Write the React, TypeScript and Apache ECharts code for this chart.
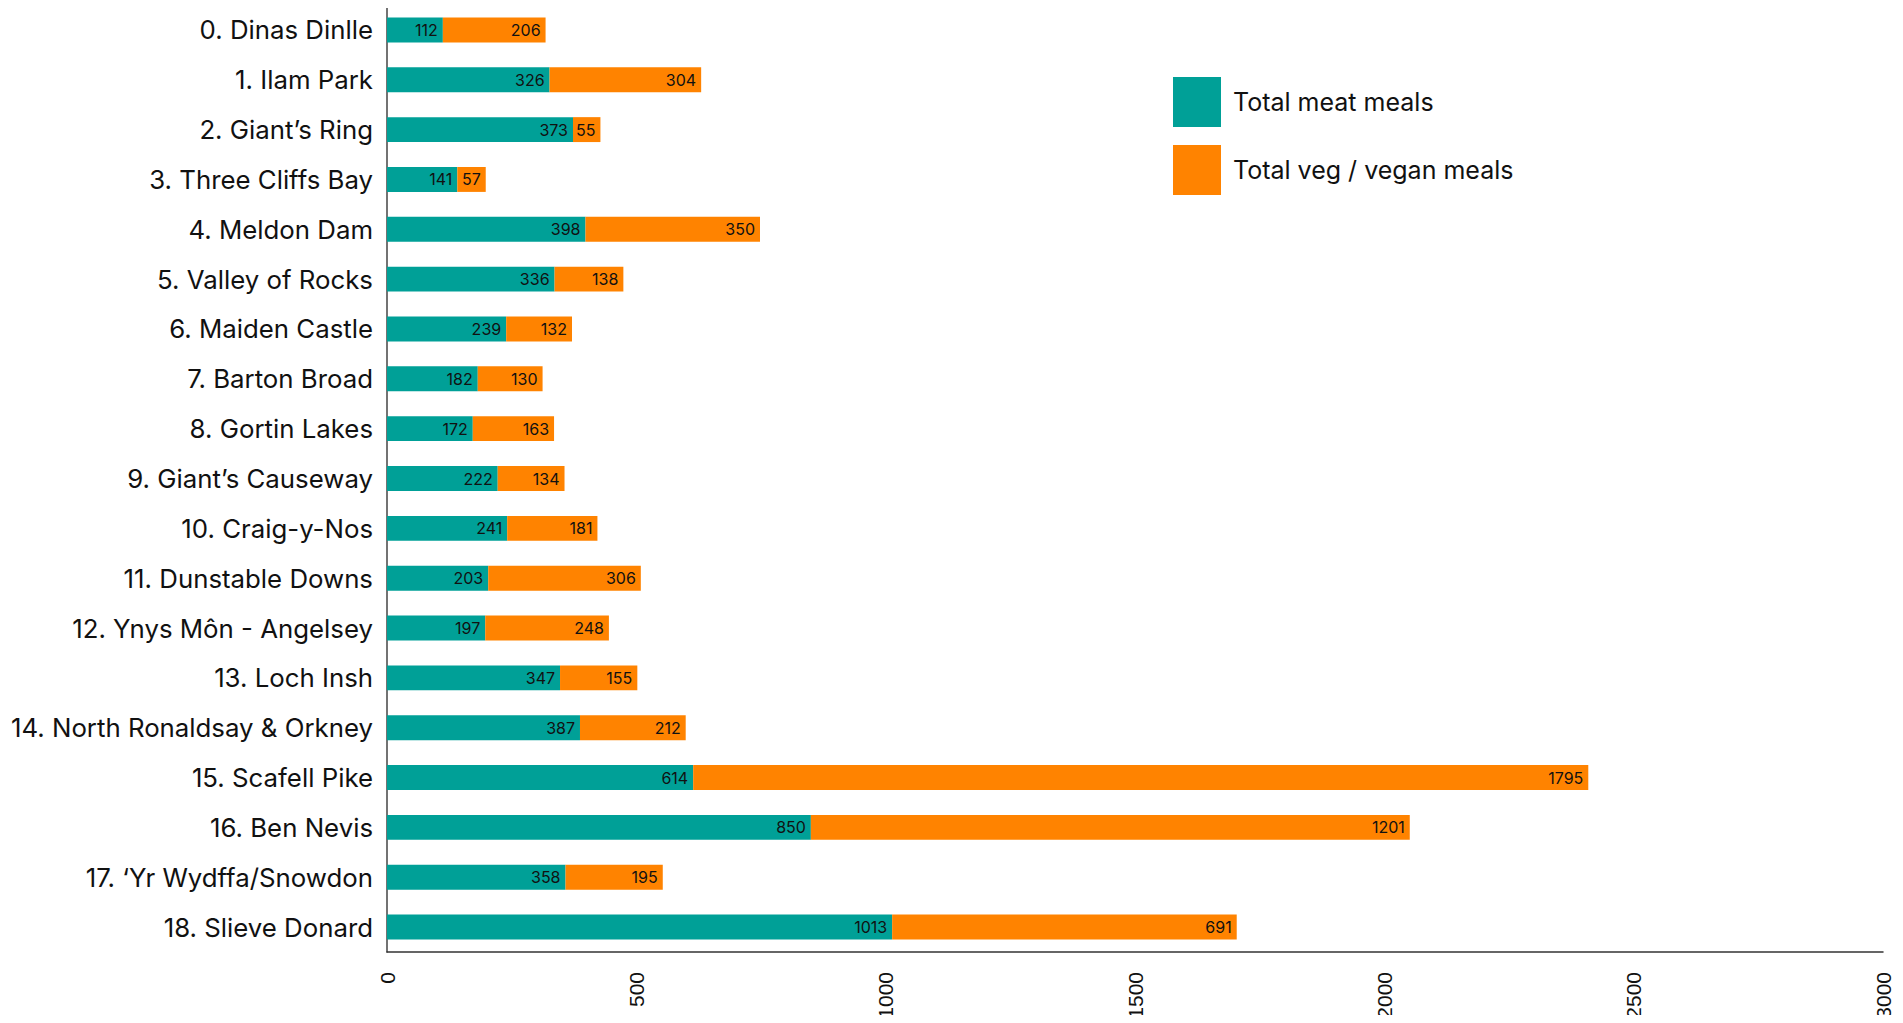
import React, { useEffect, useRef } from "react";
import * as echarts from "echarts";

// Walk locations, top to bottom
const sites = [
  "0. Dinas Dinlle",
  "1. Ilam Park",
  "2. Giant’s Ring",
  "3. Three Cliffs Bay",
  "4. Meldon Dam",
  "5. Valley of Rocks",
  "6. Maiden Castle",
  "7. Barton Broad",
  "8. Gortin Lakes",
  "9. Giant’s Causeway",
  "10. Craig-y-Nos",
  "11. Dunstable Downs",
  "12. Ynys Môn - Angelsey",
  "13. Loch Insh",
  "14. North Ronaldsay & Orkney",
  "15. Scafell Pike",
  "16. Ben Nevis",
  "17. ‘Yr Wydffa/Snowdon",
  "18. Slieve Donard",
];

const meatMeals = [112, 326, 373, 141, 398, 336, 239, 182, 172, 222, 241, 203, 197, 347, 387, 614, 850, 358, 1013];
const vegMeals = [206, 304, 55, 57, 350, 138, 132, 130, 163, 134, 181, 306, 248, 155, 212, 1795, 1201, 195, 691];

const seriesNames = ["Total meat meals", "Total veg / vegan meals"];
const seriesColors = ["#00A097", "#FF8300"];

const LABEL_FONT = "Inter, Roboto, sans-serif";

export default function App() {
  const ref = useRef<HTMLDivElement>(null);

  useEffect(() => {
    if (!ref.current) return;
    const chart = echarts.init(ref.current, null, { renderer: "svg" });

    const barLabel = {
      show: true,
      position: "insideRight",
      distance: 5,
      color: "#111",
      fontFamily: LABEL_FONT,
      fontSize: 16,
    };

    chart.setOption({
      animation: false,
      backgroundColor: "#ffffff",
      grid: { left: 387, right: 20, top: 5, bottom: 71, containLabel: false },
      legend: {
        orient: "vertical",
        left: 1168,
        top: 72,
        itemWidth: 48,
        itemHeight: 50,
        itemGap: 18,
        icon: "rect",
        data: seriesNames,
        textStyle: {
          fontFamily: LABEL_FONT,
          fontSize: 25,
          color: "#111",
          padding: [0, 0, 0, 7],
        },
      },
      xAxis: {
        type: "value",
        min: 0,
        max: 3000,
        interval: 500,
        axisLine: { show: true, lineStyle: { color: "#333", width: 1.5 } },
        axisTick: { show: false },
        splitLine: { show: false },
        axisLabel: {
          rotate: 90,
          margin: 20,
          color: "#111",
          fontFamily: "Liberation Sans, Arial, sans-serif",
          fontSize: 21,
          formatter: (v: number) => String(v),
        },
      },
      yAxis: {
        type: "category",
        inverse: true,
        data: sites,
        axisLine: { show: true, lineStyle: { color: "#444", width: 1.5 } },
        axisTick: { show: false },
        axisLabel: {
          margin: 14,
          color: "#111",
          fontFamily: LABEL_FONT,
          fontSize: 25.8,
        },
      },
      series: [
        {
          name: seriesNames[0],
          type: "bar",
          stack: "meals",
          barWidth: "50%",
          data: meatMeals,
          itemStyle: { color: seriesColors[0] },
          label: barLabel,
        },
        {
          name: seriesNames[1],
          type: "bar",
          stack: "meals",
          barWidth: "50%",
          data: vegMeals,
          itemStyle: { color: seriesColors[1] },
          label: barLabel,
        },
      ],
    });

    return () => chart.dispose();
  }, []);

  return <div ref={ref} style={{ width: 1903, height: 1023, margin: -8 }} />;
}
